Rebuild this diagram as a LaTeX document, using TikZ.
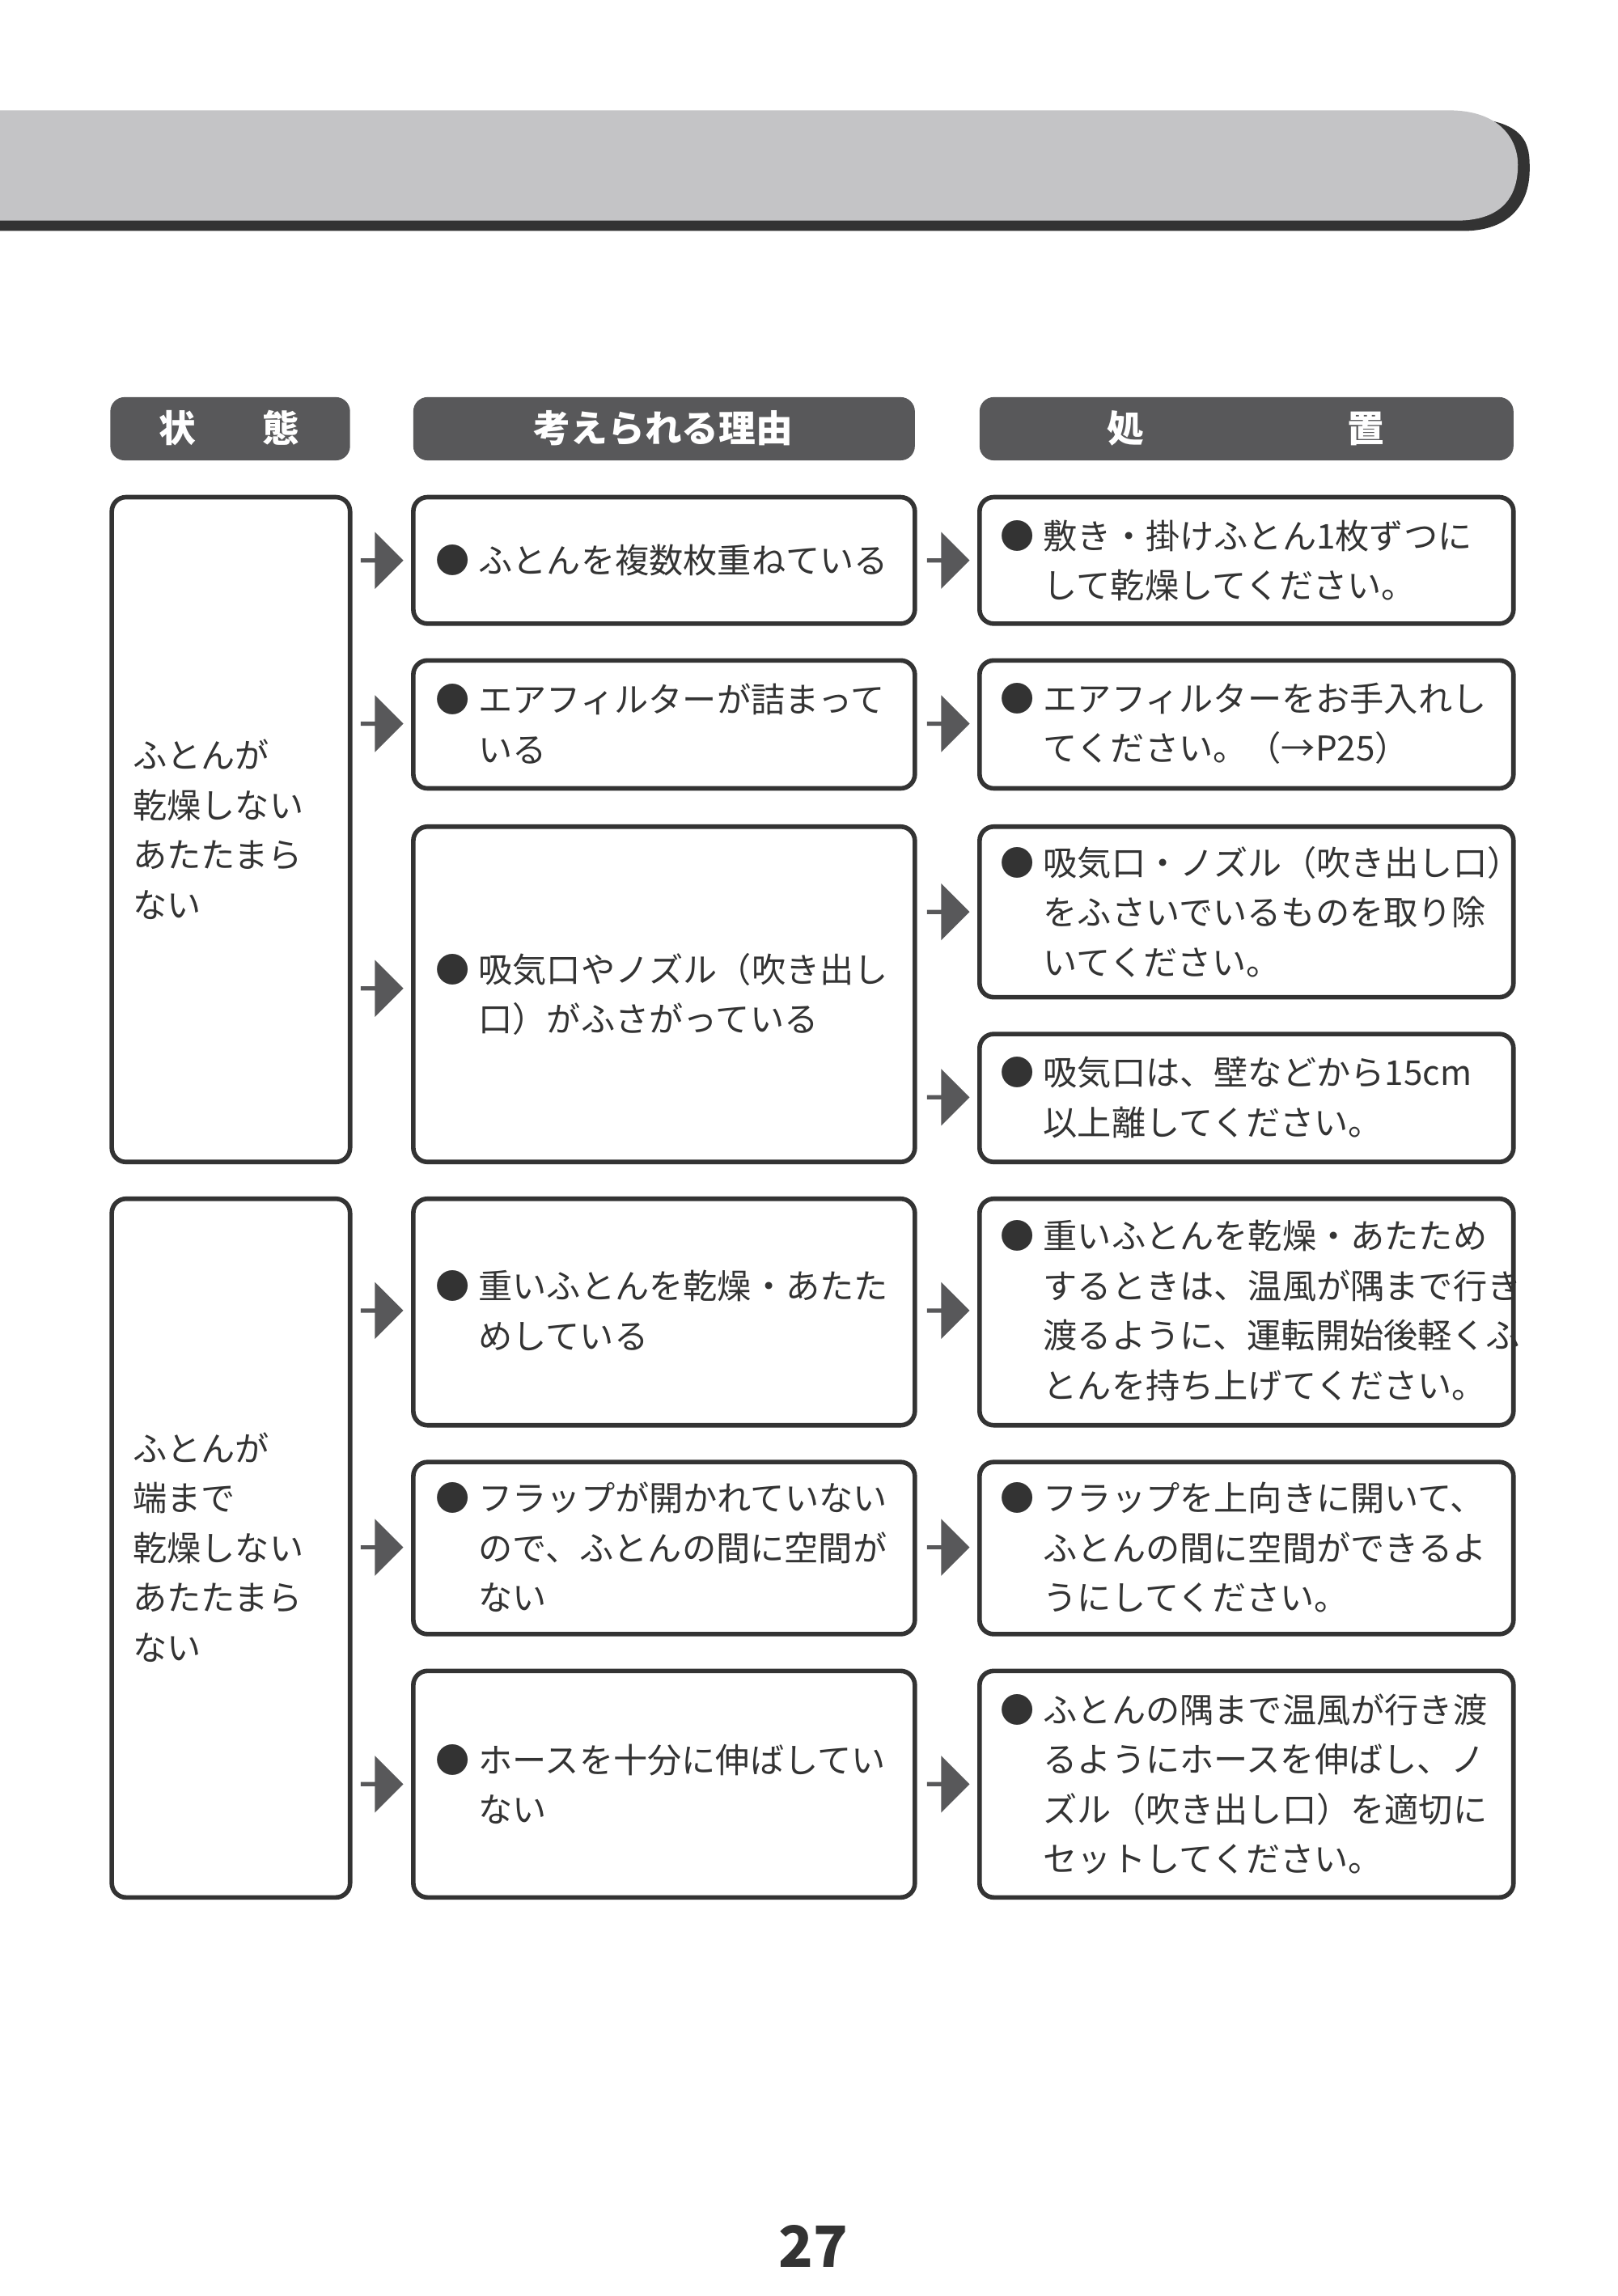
\documentclass[tikz,border=0pt]{standalone}
\usepackage{fontspec}
\setmainfont{Noto Sans CJK JP}
\usetikzlibrary{shapes.arrows}
\definecolor{hd}{HTML}{58585A}
\definecolor{bar}{HTML}{C4C4C6}
\definecolor{ln}{HTML}{333333}
\begin{document}
\begin{tikzpicture}[x=0.01818cm,y=-0.01818cm,
 box/.style={draw=ln,line width=1.6pt,rounded corners=5pt},
 head/.style={fill=hd,rounded corners=5pt},
 htxt/.style={text=white,font=\fontsize{13}{15}\selectfont\bfseries},
 txt/.style={anchor=west,align=left,inner sep=0pt,font=\fontsize{12}{17.5}\selectfont,text=ln},
 arr/.style={single arrow,fill=hd,minimum width=20pt,minimum height=15pt,single arrow head extend=2.5pt,inner sep=0pt,single arrow tip angle=90}]
\useasboundingbox (0,0) rectangle (1100,1561);
% top bar
\fill[ln] (0,80) -- (990,80) arc(-90:0:0) .. controls (1040,80) and (1040,100) .. (1040,115) .. controls (1040,140) and (1025,157) .. (995,157) -- (0,157) -- cycle;
\fill[bar] (0,75) -- (985,75) .. controls (1020,75) and (1032,95) .. (1032,112) .. controls (1032,135) and (1020,150) .. (990,150) -- (0,150) -- cycle;
% headers
\fill[head] (75,270) rectangle (238,313); \node[htxt] (h1) at (156,291) {状\hspace{1.8em}態};
\fill[head] (281,270) rectangle (622,313); \node[htxt] (h2) at (451,291) {考えられる理由};
\fill[head] (666,270) rectangle (1029,313); \node[htxt] (h3) at (847,291) {処\hspace{5.5em}置};
% left boxes
\draw[box] (76,338) rectangle (238,790);
\draw[box] (76,815) rectangle (238,1290);
\node[txt] (s1) at (90,564) {ふとんが\\乾燥しない\\あたたまら\\ない};
\node[txt] (s2) at (90,1052) {ふとんが\\端まで\\乾燥しない\\あたたまら\\ない};
% middle
\foreach \a/\b in {338/424,449/536,562/790,815/969,994/1111,1136/1290}
  \draw[box] (281,\a) rectangle (622,\b);
\def\B{\llap{●\hspace{3pt}}}
\node[txt] (m1) at (325,381) {\B ふとんを複数枚重ねている};
\node[txt] (m2) at (325,492) {\B エアフィルターが詰まって\\いる};
\node[txt] (m3) at (325,676) {\B 吸気口やノズル（吹き出し\\口）がふさがっている};
\node[txt] (m4) at (325,891) {\B 重いふとんを乾燥・あたた\\めしている};
\node[txt] (m5) at (325,1052) {\B フラップが開かれていない\\ので、ふとんの間に空間が\\ない};
\node[txt] (m6) at (325,1213) {\B ホースを十分に伸ばしてい\\ない};
% right
\foreach \a/\b in {338/424,449/536,562/678,703/790,815/969,994/1111,1136/1290}
  \draw[box] (666,\a) rectangle (1029,\b);
\node[txt] (r1) at (709,381) {\B 敷き・掛けふとん1枚ずつに\\して乾燥してください。};
\node[txt] (r2) at (709,492) {\B エアフィルターをお手入れし\\てください。（→P25）};
\node[txt] (r3) at (709,620) {\B 吸気口・ノズル（吹き出し口）\\をふさいでいるものを取り除\\いてください。};
\node[txt] (r4) at (709,746) {\B 吸気口は、壁などから15cm\\以上離してください。};
\node[txt] (r5) at (709,891) {\B 重いふとんを乾燥・あたため\\するときは、温風が隅まで行き\\渡るように、運転開始後軽くふ\\とんを持ち上げてください。};
\node[txt] (r6) at (709,1052) {\B フラップを上向きに開いて、\\ふとんの間に空間ができるよ\\うにしてください。};
\node[txt] (r7) at (709,1213) {\B ふとんの隅まで温風が行き渡\\るようにホースを伸ばし、ノ\\ズル（吹き出し口）を適切に\\セットしてください。};
% arrows
\foreach \y [count=\i] in {381,492,672,891,1052,1213}
  \node[arr] (la\i) at (259,\y) {};
\foreach \y [count=\i] in {381,492,620,746,891,1052,1213}
  \node[arr] (ra\i) at (644,\y) {};
% page number
\node[font=\fontsize{20}{22}\selectfont\bfseries\itshape,text=ln] (pg) at (553,1527) {27};
\end{tikzpicture}
\end{document}
